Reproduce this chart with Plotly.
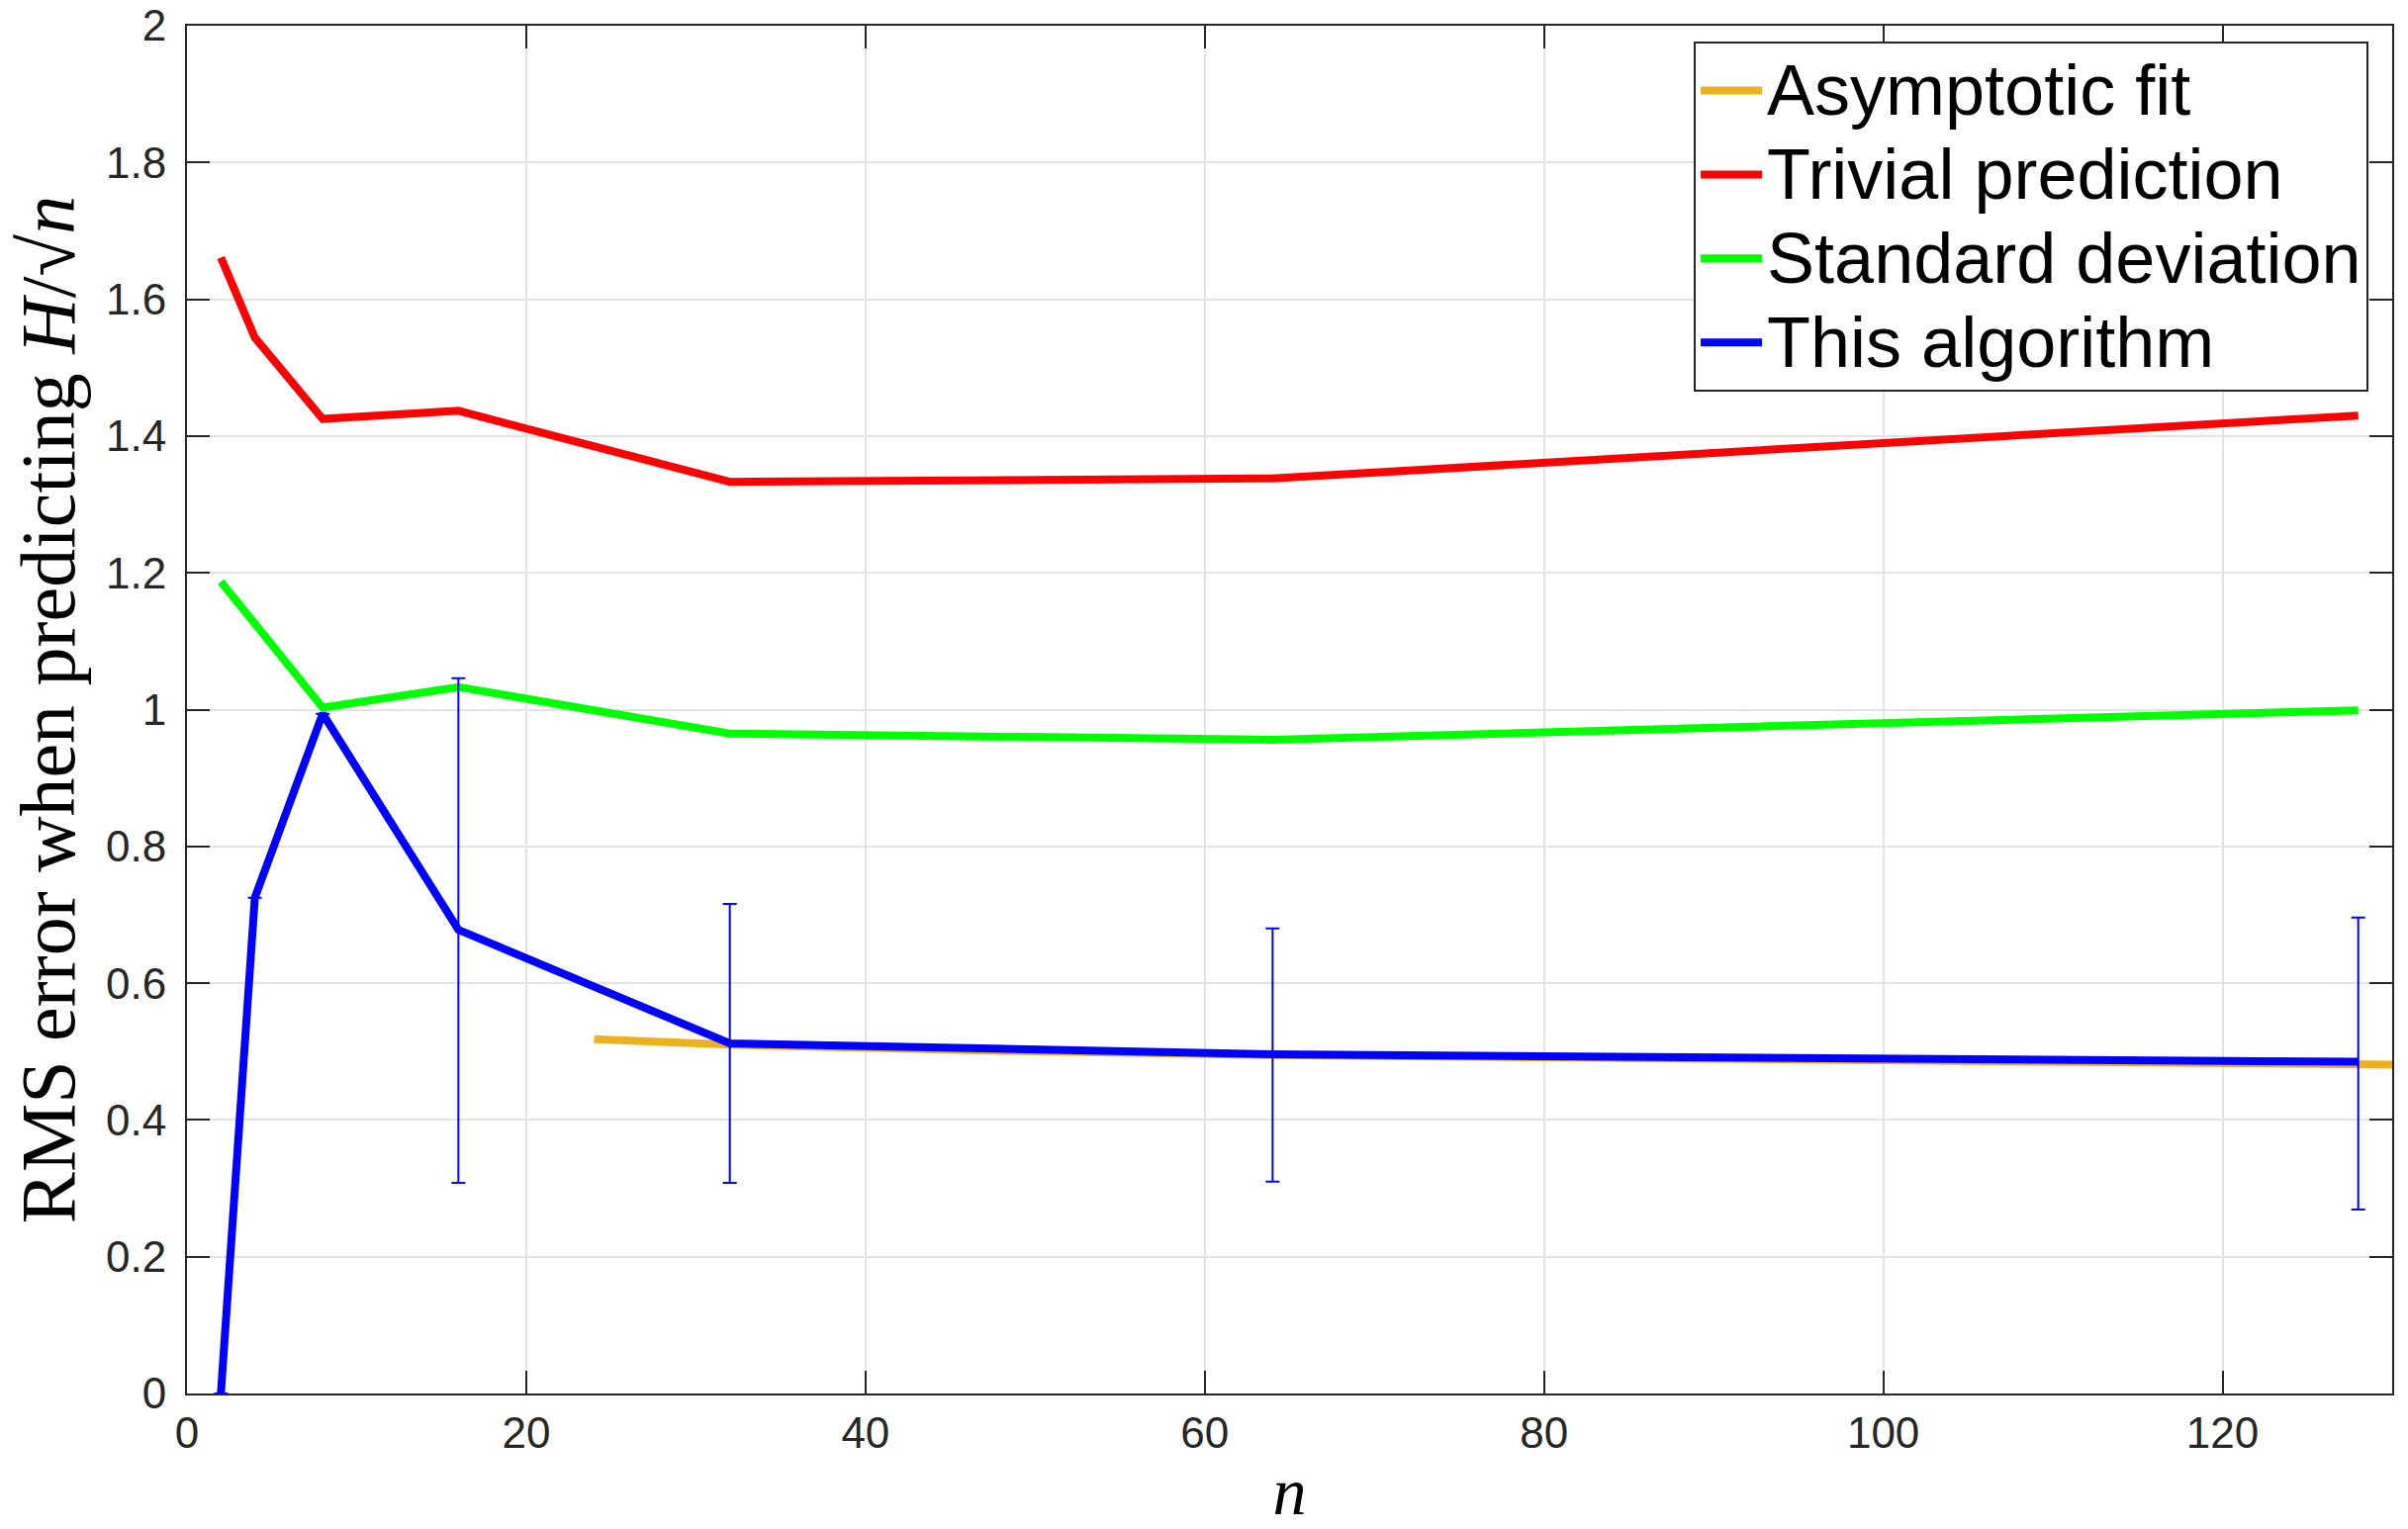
import plotly.graph_objects as go

# n values
n_trivial = [2, 4, 8, 16, 32, 64, 128]
trivial = [1.661, 1.544, 1.425, 1.437, 1.333, 1.338, 1.430]

n_std = [2, 8, 16, 32, 64, 128]
std_dev = [1.187, 1.003, 1.033, 0.965, 0.956, 0.999]

n_algo = [2, 4, 8, 16, 32, 64, 128]
algo = [0.0, 0.725, 0.994, 0.678, 0.512, 0.496, 0.485]
algo_err_plus = [0.0, 0.0, 0.0, 0.368, 0.204, 0.184, 0.211]
algo_err_minus = [0.0, 0.0, 0.0, 0.370, 0.204, 0.186, 0.216]

n_fit = [24, 32, 48, 64, 96, 128, 130]
fit = [0.518, 0.510, 0.501, 0.495, 0.488, 0.482, 0.481]

x_ticks = [0, 20, 40, 60, 80, 100, 120]
y_ticks = [0, 0.2, 0.4, 0.6, 0.8, 1, 1.2, 1.4, 1.6, 1.8, 2]
y_tick_labels = ["0", "0.2", "0.4", "0.6", "0.8", "1", "1.2", "1.4", "1.6", "1.8", "2"]

sans = "Liberation Sans, Arial, Helvetica"
serif = "Liberation Serif, Times New Roman, serif"
axis_col = "#262626"


def legend_name(s):
    # larger glyphs than the legend row height, like MATLAB's tight legend
    return '<span style="font-size:72px">' + s + '</span>'


fig = go.Figure()
fig.add_trace(go.Scatter(x=n_fit, y=fit, mode="lines", name=legend_name("Asymptotic fit"),
                         line=dict(color="#EDB120", width=8)))
fig.add_trace(go.Scatter(x=n_trivial, y=trivial, mode="lines", name=legend_name("Trivial prediction"),
                         line=dict(color="#FF0000", width=8)))
fig.add_trace(go.Scatter(x=n_std, y=std_dev, mode="lines", name=legend_name("Standard deviation"),
                         line=dict(color="#00FF00", width=8)))
fig.add_trace(go.Scatter(x=n_algo, y=algo, mode="lines", name=legend_name("This algorithm"),
                         line=dict(color="#0000FF", width=8),
                         error_y=dict(type="data", array=algo_err_plus, arrayminus=algo_err_minus,
                                      color="#0000FF", thickness=2, width=7)))

axis_common = dict(showline=True, linecolor=axis_col, linewidth=2, mirror="ticks",
                   ticks="inside", ticklen=23, tickwidth=2, tickcolor=axis_col,
                   showgrid=True, gridcolor="#e3e3e3", gridwidth=2, zeroline=False,
                   automargin=False,
                   tickfont=dict(family=sans, size=44, color=axis_col))

fig.update_xaxes(range=[0, 130], tickvals=x_ticks,
                 title=dict(text="<i>n</i>", font=dict(family=serif, size=68, color="black"), standoff=18),
                 **axis_common)
fig.update_yaxes(range=[0, 2], tickvals=y_ticks, ticktext=y_tick_labels, ticklabelstandoff=10,
                 title=dict(text="RMS error when predicting <i>H</i>/√<i>n</i>",
                            font=dict(family=serif, size=78, color="black"), standoff=6),
                 **axis_common)

fig.update_layout(
    width=2434, height=1546, autosize=False,
    margin=dict(l=189, r=16, t=26, b=137),
    plot_bgcolor="white", paper_bgcolor="white",
    legend=dict(x=0.6833, y=0.9884, xanchor="left", yanchor="top",
                bgcolor="white", bordercolor=axis_col, borderwidth=2,
                font=dict(family=sans, size=63, color="black"),
                itemwidth=62, tracegroupgap=0),
)

fig.write_html("out.html", config={"displayModeBar": False},
               post_script="document.body.style.margin='0';")
